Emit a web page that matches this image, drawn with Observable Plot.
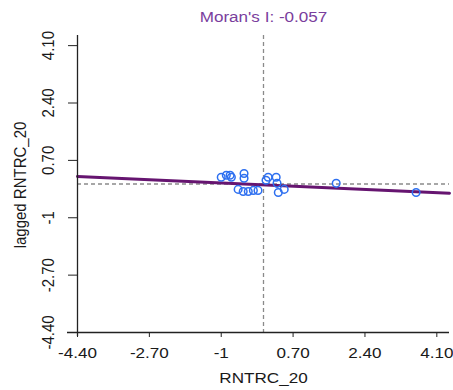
<!DOCTYPE html>
<html>
<head>
<meta charset="utf-8">
<script src="https://cdn.jsdelivr.net/npm/d3@7"></script>
<script src="https://cdn.jsdelivr.net/npm/@observablehq/plot@0.6"></script>
<style>
  html, body { margin: 0; padding: 0; background: white; }
</style>
</head>
<body>
<div id="chart"></div>
<script>
// ---- data ----
const titleText = "Moran's I: -0.057";
const xLabel = "RNTRC_20";
const yLabel = "lagged RNTRC_20";

const pointX = [-1.00, -0.88, -0.79, -0.76, -0.46, -0.46, -0.60, -0.48, -0.36, -0.24, -0.13, 0.11, 0.06, 0.30, 0.32, 0.35, 0.49, 1.72, 3.61];
const pointY = [0.20, 0.26, 0.26, 0.20, 0.31, 0.17, -0.16, -0.22, -0.22, -0.19, -0.19, 0.20, 0.11, 0.20, 0.02, -0.25, -0.16, 0.02, -0.25];

const fitX = [-4.4, 4.4];
const fitY = [0.225, -0.275];

const meanX = [0];
const meanY = [0];

const axisTicks = [-4.4, -2.7, -1, 0.7, 2.4, 4.1];
const axisTickLabels = ["-4.40", "-2.70", "-1", "0.70", "2.40", "4.10"];
const axisDomain = [-4.4, 4.4];

// ---- build tables ----
const points = pointX.map((x, i) => ({x, y: pointY[i]}));
const fit = fitX.map((x, i) => ({x, y: fitY[i]}));
const labelOf = new Map(axisTicks.map((t, i) => [t, axisTickLabels[i]]));
const fmt = d => labelOf.get(d);

const font = "'Liberation Sans', Arial, Helvetica, sans-serif";
const purpleLine = "#661570";
const purpleTitle = "#7a3e9d";
const pointBlue = "#2d6ff0";
const dashGray = "#8a8a8a";

const svg = Plot.plot({
  width: 453,
  height: 390,
  marginTop: 35,
  marginBottom: 58,
  marginLeft: 77,
  marginRight: 4,
  x: {domain: axisDomain},
  y: {domain: axisDomain},
  style: {fontFamily: font, fontSize: "15px", background: "white", color: "#1a1a1a"},
  marks: [
    Plot.ruleX(meanX, {stroke: dashGray, strokeWidth: 1.3, strokeDasharray: "4,3"}),
    Plot.ruleY(meanY, {stroke: dashGray, strokeWidth: 1.3, strokeDasharray: "4,3"}),
    Plot.line(fit, {x: "x", y: "y", stroke: purpleLine, strokeWidth: 3}),
    Plot.dot(points, {x: "x", y: "y", r: 3.8, stroke: pointBlue, strokeWidth: 1.5, fill: "none"}),
    Plot.axisX(axisTicks, {tickSize: 5, tickPadding: 10, tickFormat: fmt, label: null, fontSize: 15, stroke: "#222"}),
    Plot.axisY(axisTicks, {tickSize: 9, tickPadding: 15, tickRotate: -90, tickFormat: fmt, label: null, fontSize: 15, stroke: "#222"}),
    Plot.ruleY([axisDomain[0]], {stroke: "#222", strokeWidth: 1.3, insetLeft: -10}),
    Plot.ruleX([axisDomain[0]], {stroke: "#222", strokeWidth: 1.3, insetBottom: -4}),
    Plot.text([titleText], {text: d => d, frameAnchor: "top", dy: -14, lineAnchor: "bottom", textAnchor: "middle", fill: purpleTitle, fontSize: 15}),
    Plot.text([xLabel], {text: d => d, frameAnchor: "bottom", dy: 50, lineAnchor: "bottom", textAnchor: "middle", fill: "#1a1a1a", fontSize: 15}),
    Plot.text([yLabel], {text: d => d, frameAnchor: "left", dx: -52, dy: 1, rotate: -90, lineAnchor: "bottom", textAnchor: "middle", fill: "#1a1a1a", fontSize: 15})
  ]
});

// the reference image is slightly stretched horizontally: widen the glyphs the same way
const stretch = 1.14;
svg.querySelectorAll("text").forEach(t => {
  const tr = t.getAttribute("transform");
  if (tr && tr.startsWith("translate")) {
    t.setAttribute("transform", tr.replace(/^(translate\([^)]*\))/, `$1 scale(${stretch},1)`));
  }
});

document.getElementById("chart").appendChild(svg);
</script>
</body>
</html>
